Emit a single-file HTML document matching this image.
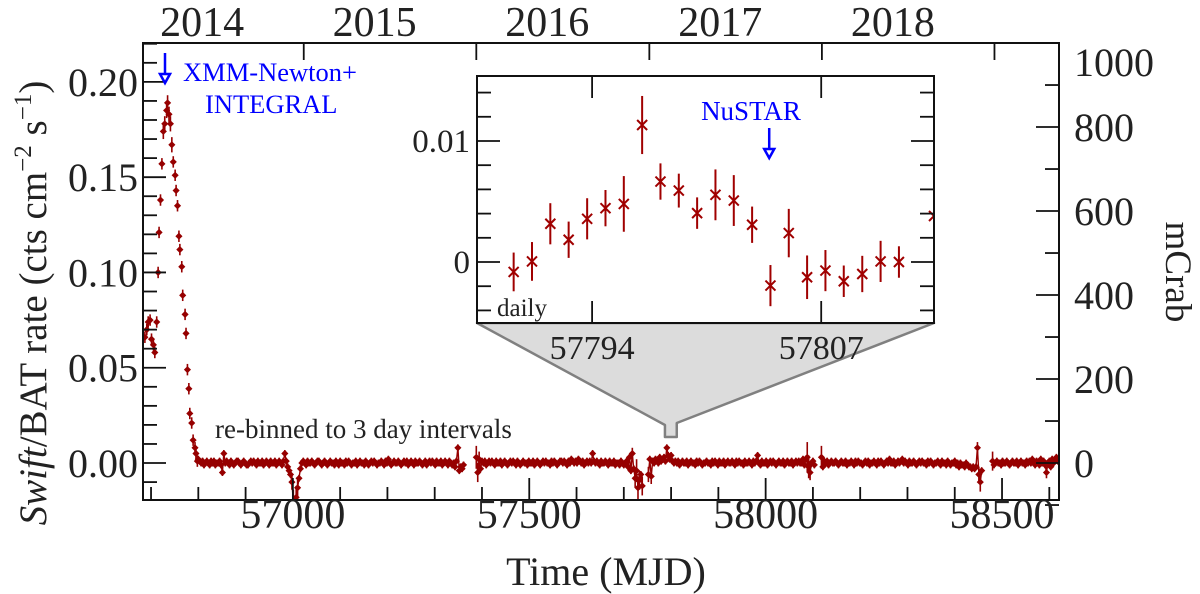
<!DOCTYPE html>
<html><head><meta charset="utf-8">
<style>
html,body{margin:0;padding:0;background:#fff;}
svg{display:block;font-family:"Liberation Serif",serif;}
</style></head>
<body>
<svg id="chart" width="1200" height="594" viewBox="0 0 1200 594" xmlns="http://www.w3.org/2000/svg">
<rect x="0" y="0" width="1200" height="594" fill="#fff"/>
<g id="main"></g>
<g id="inset"></g>
</svg>
<script>
// ---------- data ----------
const outburstMjd = [56687,56691,56694,56698,56701,56705,56708,56712,56715,56717,56720,56723,56726,56729,56733,56735,56738,56741,56744,56747,56751,56753,56756,56759,56761,56765,56767,56772,56774,56777,56780,56782,56786,56789,56793,56795,56798];
const outburstRate = [.066,.070,.074,.075,.065,.062,.058,.074,.100,.121,.138,.157,.174,.178,.185,.189,.183,.178,.167,.158,.151,.143,.135,.119,.112,.103,.088,.078,.068,.049,.039,.026,.021,.012,.008,.005,.001];
const outburstErr = [.003,.003,.003,.003,.003,.003,.003,.003,.003,.003,.003,.003,.004,.004,.004,.004,.004,.004,.004,.003,.003,.003,.003,.003,.003,.003,.003,.003,.003,.003,.003,.003,.003,.003,.003,.003,.003];
// 3-day binned segments (rate x 1000)
const segStartMjd = [56800,57388,57752,58118,58480];
const segA = [2,1,0,1,-1,0,1,0,-1,1, 0,1,-1,0,0,1,-1,-5,5,0, 1,0,-1,1,0,-1,0,1,1,0, -1,0,1,0,-1,-1,0,1,0,1, 0,-1,1,0,0,1,-1,0,1,0, -1,1,0,0,1,-1,0,1,0,-1, 1,5,1,-2,-4,-6,-10,-20,-26,-18, -13,-8,-3,0,1,0,-1,1,0,0, 1,0,-1,0,1,1,0,-1,0,1, 0,-1,0,1,0,0,-1,1,0,-1, 1,0,0,-1,1,0,1,0,-1,0, 0,1,-1,0,1,0,0,-1,1,0, -1,0,1,0,1,0,-1,0,0,1, 0,-1,1,0,2,0,-1,0,1,0, 0,1,0,-1,0,1,0,1,-1,0, 1,0,-1,1,0,0,1,0,-1,0, 1,-1,0,1,0,1,0,-1,1,0, 0,1,-1,0,1,0,-1,1,0,-1, 0,-2,1,8,-4,-2,-3,-1];
const segB = [3,-5,2,-3,1,0,1,-1,0,1, 0,1,0,-1,1,0,0,1,-1,0, 1,0,-1,0,1,0,1,0,-1,1, 0,-1,0,1,0,0,-1,1,0,0, 1,-1,0,1,0,-1,0,1,0,1, 0,0,-1,1,0,1,0,-1,0,1, 1,0,1,0,-1,1,0,2,1,0, 1,0,2,1,0,1,-1,0,1,0, 1,0,5,1,0,1,0,-1,1,0, 0,1,0,-1,1,0,0,1,-1,0, 0,-1,1,0,-1,0,1,-2,3,-4, 5,-3,-8,-4,-13,-9,-6,-12];
const segC = [-6,2,-7,1,0,2,1,0,3,1, 2,3,1,8,4,2,4,1,0,1, 0,1,-1,0,1,0,0,1,-1,0, 1,0,0,-1,1,0,1,0,-1,0, 0,1,0,0,-1,1,0,1,0,-1, 1,0,0,1,-1,0,1,0,0,1, 0,-1,1,0,1,0,0,-1,1,0, 0,1,0,-1,1,0,1,4,0,-1, 1,0,0,1,-1,0,1,0,1,0, -1,0,1,0,0,1,-1,0,1,0, 0,1,-1,0,1,0,1,0,0,2, -1,2,3,-2,-5,0,1,-1];
const segD = [3,-2,1,0,1,-1,0,1,0,0, 1,0,-1,0,1,0,0,1,-1,0, 0,1,0,-1,1,0,1,0,0,-1, 0,1,0,1,-1,0,0,1,0,-1, 1,0,1,0,-1,0,1,0,2,0, 0,1,-1,0,1,0,1,2,0,1, 0,-1,1,0,0,1,0,-1,0,1, 0,1,0,0,-1,1,0,1,0,-1, 0,0,1,0,-1,1,0,0,-1,1, 0,-1,0,0,1,-1,0,-2,0,-1, -1,-2,0,-1,-2,-2,-3,-2,-3,-2, 8,-6,-10,-4];
const segE = [1,-1,0,1,0,0,-1,1,0,0, 1,0,-1,0,1,0,0,1,-1,0, 1,0,0,-1,1,0,1,0,2,0, -1,1,0,-1,2,0,1,-1,-5,0, 1,-2,2,0,1,3,1,2];
const errOverrideMjd = [56998,57001,57004,57007,57010,57388,57391,57394,57718,57724,57727,57730,57733,57739,57752,57758,58088,58091,58094,58118,58448,58451,58454,58480,58594];
const errOverrideVal = [.004,.006,.008,.006,.005,.006,.005,.004,.003,.005,.006,.006,.005,.005,.004,.004,.008,.006,.004,.006,.003,.004,.005,.005,.003];
const yTickLabels = ["0.00","0.05","0.10","0.15","0.20"];
const yTickValues = [0,0.05,0.10,0.15,0.20];
const xTickValues = [57000,57500,58000,58500];
const mcrabTicks = [0,200,400,600,800,1000];
const yearLabels = ["2014","2015","2016","2017","2018"];
const yearStartMjd = [56658,57023,57388,57754,58119,58484];
// inset (daily)
const insetMjd = [57789.55,57790.59,57791.63,57792.67,57793.72,57794.76,57795.80,57796.84,57797.88,57798.92,57799.96,57801.00,57802.04,57803.08,57804.12,57805.16,57806.20,57807.24,57808.28,57809.33,57810.37,57811.41,57813.40];
const insetRate = [-0.00082,0.00005,0.00316,0.00184,0.00357,0.00445,0.0048,0.01132,0.00665,0.0059,0.00404,0.00555,0.00508,0.00308,-0.00195,0.00239,-0.00126,-0.00071,-0.00159,-0.00099,0.00005,0,0.0038];
const insetErr = [0.0016,0.0016,0.0017,0.0015,0.0017,0.0015,0.0023,0.0024,0.0015,0.0014,0.0013,0.0021,0.0021,0.0015,0.0017,0.0020,0.0018,0.0017,0.0013,0.0015,0.0017,0.0013,0.0015];
const insetXTicks = [57794,57807];
const insetYTicks = [0,0.01];
const insetYTickLabels = ["0","0.01"];
const nustarMjd = 57804.05;

// ---------- helpers ----------
const NS="http://www.w3.org/2000/svg";
function mk(tag, attrs, parent){const e=document.createElementNS(NS,tag);for(const k in attrs)e.setAttribute(k,attrs[k]);parent.appendChild(e);return e;}
const main=document.getElementById('main'), inset=document.getElementById('inset');
const L=143,R=1059,T=43,B=500;
const X0=56683,X1=58620.5,Y0=-0.0194,Y1=0.2204;
const sx=m=>L+(m-X0)/(X1-X0)*(R-L);
const sy=v=>B-(v-Y0)/(Y1-Y0)*(B-T);
const RED="#960000";

const defs=mk('defs',{},main);
const cp=mk('clipPath',{id:'mclip'},defs);
mk('rect',{x:L,y:T,width:R-L,height:B-T},cp);

const pts=mk('g',{'clip-path':'url(#mclip)'},main);


function errFor(m){for(let i=0;i<errOverrideMjd.length;i++){if(Math.abs(errOverrideMjd[i]-m)<1.6)return errOverrideVal[i];}return 0.0018;}
function drawPt(m,v,e){
  const x=sx(m),y=sy(v);
  const l=mk('line',{x1:x,x2:x,y1:sy(v+e),y2:sy(v-e),stroke:RED,'stroke-width':1.6},pts);
  
  
  const p=mk('path',{d:`M${x-3},${y}L${x},${y-3}L${x+3},${y}L${x},${y+3}Z`,fill:RED,stroke:RED,'stroke-width':0.8},pts);
  
  
}
for(let i=0;i<outburstMjd.length;i++)drawPt(outburstMjd[i],outburstRate[i],outburstErr[i]);
const segs=[segA,segB,segC,segD,segE];
segs.forEach((s,k)=>{
  let d='';
  s.forEach((v,i)=>{const m=segStartMjd[k]+3*i;d+=(i?'L':'M')+sx(m).toFixed(1)+','+sy(v*0.001).toFixed(1);});
  const pl=mk('path',{d:d,fill:'none',stroke:RED,'stroke-width':1.4},pts);
  
  
  s.forEach((v,i)=>{const m=segStartMjd[k]+3*i;drawPt(m,v*0.001,errFor(m));});
});

const fr=mk('rect',{x:L,y:T,width:R-L,height:B-T,fill:'none',stroke:'#111','stroke-width':2},main);



const ax=mk('g',{stroke:'#111','stroke-width':1.8},main);


for(let k=-1;k<=22;k++){const v=k*0.01;const y=sy(v);if(y<T||y>B)continue;const major=(k%5===0);mk('line',{x1:L,x2:L+(major?23:14),y1:y,y2:y},ax);}
yTickValues.forEach((v,i)=>{const t=mk('text',{x:138,y:sy(v)+14,'text-anchor':'end','font-size':40,fill:'#222'},main);t.textContent=yTickLabels[i];
});
const mpx=(463-43)/1000;
for(let k=0;k<=10;k++){const y=sy(0)-k*100*mpx;if(y<T-1)continue;mk('line',{x1:R,x2:R-(k%2===0?23:14),y1:y,y2:y},ax);}
mk('line',{x1:R,x2:R-14,y1:sy(0)+100*mpx,y2:sy(0)+100*mpx},ax);
mcrabTicks.forEach(v=>{let y=sy(0)-v*mpx;if(v===1000)y=62;const t=mk('text',{x:1074,y:y+14,'font-size':40,fill:'#222'},main);t.textContent=String(v);
});
for(let m=56700;m<=58600;m+=100){const x=sx(m);const major=(m%500===0);mk('line',{x1:x,x2:x,y1:B,y2:B-(major?22:13)},ax);}
xTickValues.forEach(m=>{const t=mk('text',{x:sx(m),y:528,'text-anchor':'middle','font-size':42,fill:'#222'},main);t.textContent=String(m);
});
yearStartMjd.forEach(m=>{const x=sx(m);if(x<L||x>R)return;mk('line',{x1:x,x2:x,y1:T,y2:T+17},ax);});
yearLabels.forEach((s,i)=>{const t=mk('text',{x:sx(yearStartMjd[i]+150),y:36,'text-anchor':'middle','font-size':42,fill:'#222'},main);t.textContent=s;
});

// ---------- inset ----------
const iL=477,iR=934,iT=76,iB=323,iX0=57787.47,iX1=57813.4,iY0=-0.00504,iY1=0.01537;
const ix=m=>iL+(m-iX0)/(iX1-iX0)*(iR-iL);
const iy=v=>iB-(v-iY0)/(iY1-iY0)*(iB-iT);
const zoomPoly=mk('path',{d:`M${iL},${iB}L${sx(57787)},${425}L${sx(57787)},437L${sx(57812)},437L${sx(57812)},423L${iR},${iB}Z`,fill:'#dcdcdc',stroke:'#808080','stroke-width':2.5,'stroke-linejoin':'round'},inset);


const ibg=mk('rect',{x:iL,y:iT,width:iR-iL,height:iB-iT,fill:'#fff'},inset);


const idefs=mk('defs',{},inset);const icp=mk('clipPath',{id:'iclip'},idefs);mk('rect',{x:iL,y:iT,width:iR-iL,height:iB-iT},icp);
const ipts=mk('g',{'clip-path':'url(#iclip)',stroke:'#a00000','stroke-width':2},inset);


insetMjd.forEach((m,i)=>{const x=ix(m),y=iy(insetRate[i]);
  const e=mk('line',{x1:x,x2:x,y1:iy(insetRate[i]+insetErr[i]),y2:iy(insetRate[i]-insetErr[i])},ipts);
  
  const c=mk('path',{d:`M${x-5},${y-5}L${x+5},${y+5}M${x-5},${y+5}L${x+5},${y-5}`,fill:'none'},ipts);
  });
const ifr=mk('rect',{x:iL,y:iT,width:iR-iL,height:iB-iT,fill:'none',stroke:'#111','stroke-width':2},inset);


const iax=mk('g',{stroke:'#111','stroke-width':1.8},inset);


for(let k=-2;k<=7;k++){const v=k*0.002;const y=iy(v);if(y<iT||y>iB)continue;const major=(k%5===0);const len=major?23:14;
  mk('line',{x1:iL,x2:iL+len,y1:y,y2:y},iax);mk('line',{x1:iR,x2:iR-len,y1:y,y2:y},iax);}
insetXTicks.forEach(m=>{const x=ix(m);mk('line',{x1:x,x2:x,y1:iB,y2:iB-22},iax);mk('line',{x1:x,x2:x,y1:iT,y2:iT+22},iax);
  const t=mk('text',{x:x,y:359,'text-anchor':'middle','font-size':34,fill:'#222'},inset);t.textContent=String(m);
  });
insetYTicks.forEach((v,i)=>{const t=mk('text',{x:470,y:iy(v)+11,'text-anchor':'end','font-size':33,fill:'#222'},inset);t.textContent=insetYTickLabels[i];
  });
const nx=ix(nustarMjd);
const na=mk('g',{stroke:'#0000ff','stroke-width':2.5,fill:'#fff'},inset);


mk('line',{x1:nx,x2:nx,y1:128,y2:150},na);
mk('path',{d:`M${nx-5},${149}L${nx+5},149L${nx},158Z`},na);
</script>
<div style="position:absolute;left:0;top:0;width:1200px;height:594px;pointer-events:none">
<svg width="1200" height="594" style="position:absolute;left:0;top:0" xmlns="http://www.w3.org/2000/svg" font-family="Liberation Serif, serif">
<text transform="translate(46,303) rotate(-90)" text-anchor="middle" font-size="39" fill="#222"><tspan font-style="italic">Swift</tspan>/BAT rate (cts cm<tspan font-size="25" dy="-15">−2</tspan><tspan dy="15"> s</tspan><tspan font-size="25" dy="-15">−1</tspan><tspan dy="15">)</tspan></text>
<text transform="translate(1166,272) rotate(90)" text-anchor="middle" font-size="37" fill="#222">mCrab</text>
<text x="606" y="585" text-anchor="middle" font-size="40" fill="#222">Time (MJD)</text>
<text x="215" y="438" font-size="27" fill="#222">re-binned to 3 day intervals</text>
<text x="183" y="81" font-size="26.5" fill="#0000ff">XMM-Newton+</text>
<text x="205" y="113" font-size="26.5" fill="#0000ff">INTEGRAL</text>
<g stroke="#0000ff" stroke-width="2.5" fill="#fff">
<line x1="165" y1="53" x2="165" y2="75"/><path d="M160,74L170,74L165,83Z"/></g>
<text x="751" y="120" text-anchor="middle" font-size="27" fill="#0000ff">NuSTAR</text>
<text x="497" y="316" font-size="25" fill="#222">daily</text>
</svg></div>
</body></html>
